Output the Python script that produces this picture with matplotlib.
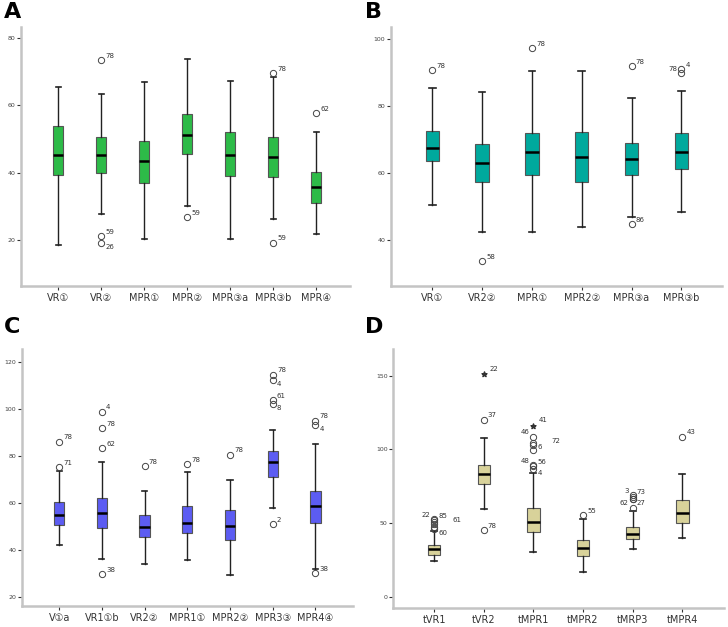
import matplotlib
matplotlib.use("Agg")
import matplotlib.pyplot as plt

plt.rcParams['font.family'] = ['DejaVu Sans', 'Noto Sans CJK SC']

# ---- panel A ----
a_labels = ['VR①', 'VR②', 'MPR①', 'MPR②', 'MPR③a', 'MPR③b', 'MPR④']
a_whislo = [18.4, 27.5, 20.3, 30.0, 20.3, 26.1, 21.8]
a_q1 = [39.4, 39.9, 37.0, 45.4, 39.0, 38.7, 31.0]
a_med = [45.3, 45.3, 43.4, 51.3, 45.3, 44.7, 35.7]
a_q3 = [54.0, 50.6, 49.5, 57.5, 52.1, 50.6, 40.2]
a_whishi = [65.4, 63.5, 66.9, 73.7, 67.4, 68.4, 52.0]
a_out = [[], [(73.5, '78', 'r'), (21.1, '59', 'r'), (19.1, '26', 'rd')], [],
         [(26.8, '59', 'r')], [], [(69.6, '78', 'r'), (19.1, '59', 'r')],
         [(57.8, '62', 'r')]]

# ---- panel B ----
b_labels = ['VR①', 'VR2②', 'MPR①', 'MPR2②', 'MPR③a', 'MPR③b']
b_whislo = [50.4, 42.3, 42.2, 43.7, 46.9, 48.3]
b_q1 = [63.6, 57.3, 59.5, 57.3, 59.5, 61.0]
b_med = [67.5, 63.0, 66.3, 64.6, 64.2, 66.1]
b_q3 = [72.5, 68.5, 71.9, 72.3, 68.8, 71.9]
b_whishi = [85.5, 84.2, 90.5, 90.5, 82.4, 84.6]
b_out = [[(90.7, '78', 'r')], [(33.6, '58', 'r')], [(97.4, '78', 'r')], [],
         [(91.8, '78', 'r'), (44.8, '86', 'r')],
         [(91.1, '4', 'r'), (89.9, '78', 'l')]]

# ---- panel C ----
c_labels = ['V①a', 'VR1①b', 'VR2②', 'MPR1①', 'MPR2②', 'MPR3③', 'MPR4④']
c_whislo = [41.9, 36.1, 33.8, 35.8, 29.1, 57.6, 31.7]
c_q1 = [50.3, 49.2, 45.2, 47.3, 44.2, 71.1, 51.3]
c_med = [54.9, 55.7, 49.6, 51.3, 50.2, 77.5, 58.7]
c_q3 = [60.1, 62.0, 54.6, 58.4, 56.7, 82.0, 64.9]
c_whishi = [73.5, 77.5, 64.8, 73.1, 69.6, 90.8, 84.9]
c_out = [[(86.0, '78', 'r'), (75.0, '71', 'r')],
         [(98.8, '4', 'r'), (91.8, '78', 'r'), (83.3, '62', 'r'), (29.7, '38', 'r')],
         [(75.5, '78', 'r')], [(76.3, '78', 'r')], [(80.5, '78', 'r')],
         [(114.6, '78', 'r'), (112.2, '4', 'rd'), (103.6, '61', 'r'), (102.2, '8', 'rd'),
          (50.9, '2', 'r')],
         [(95.0, '78', 'r'), (93.0, '4', 'rd'), (30.0, '38', 'r')]]

# ---- panel D ----
d_labels = ['tVR1', 'tVR2', 'tMPR1', 'tMPR2', 'tMRP3', 'tMPR4']
d_whislo = [24.4, 59.7, 30.1, 16.7, 32.1, 40.0]
d_q1 = [28.1, 76.2, 44.1, 27.6, 38.9, 49.8]
d_med = [32.1, 83.0, 50.7, 32.8, 42.5, 56.6]
d_q3 = [34.8, 89.4, 60.4, 38.2, 47.1, 65.6]
d_whishi = [44.6, 107.9, 83.7, 52.5, 57.9, 83.0]
d_out = [[(52.5, '22', 'l'), (52.0, '85', 'r'), (50.5, ''), (49.0, '61', 'rr'),
          (47.5, ''), (46.0, '60', 'rd')],
         [(120.1, '37', 'r'), (45.0, '78', 'r')],
         [(108.6, '46', 'l'), (104.1, '6', 'rd'), (103.0, '72', 'rr'), (99.6, ''),
          (89.4, '48', 'l'), (88.4, '56', 'r'), (86.5, '4', 'rd')],
         [(55.2, '55', 'r')],
         [(68.8, '3', 'l'), (67.8, '73', 'r'), (66.5, '62', 'ld'), (66.0, '27', 'rd'),
          (60.0, '')],
         [(108.6, '43', 'r')]]
d_extreme = [[], [(150.9, '22')], [(116.1, '41')], [], [], []]

panels = [
    ('A', a_labels, a_whislo, a_q1, a_med, a_q3, a_whishi, a_out, None,
     '#2dbb48', [0.029, 0.544, 0.452, 0.413], (0.14, 7.79), (6.2, 83.4), [20, 40, 60, 80], 0.24,
     (0.006, 0.997)),
    ('B', b_labels, b_whislo, b_q1, b_med, b_q3, b_whishi, b_out, None,
     '#00a99d', [0.537, 0.544, 0.455, 0.413], (0.17, 6.82), (26.2, 103.6), [40, 60, 80, 100], 0.27,
     (0.502, 0.997)),
    ('C', c_labels, c_whislo, c_q1, c_med, c_q3, c_whishi, c_out, None,
     '#5c5cf2', [0.030, 0.0335, 0.455, 0.41], (0.127, 7.88), (16.0, 125.5), [20, 40, 60, 80, 100, 120], 0.24,
     (0.006, 0.495)),
    ('D', d_labels, d_whislo, d_q1, d_med, d_q3, d_whishi, d_out, d_extreme,
     '#d8d29a', [0.540, 0.031, 0.4545, 0.412], (0.175, 6.84), (-7.5, 167.9), [0, 50, 100, 150], 0.25,
     (0.502, 0.495)),
]

fig = plt.figure(figsize=(7.28, 6.27), dpi=100)

for (name, labels, wlo, q1, med, q3, whi, outs, extremes, color, rect,
     xlim, ylim, yticks, width, letter_pos) in panels:
    ax = fig.add_axes(rect)
    stats = []
    for i in range(len(labels)):
        stats.append({'label': labels[i], 'whislo': wlo[i], 'q1': q1[i], 'med': med[i],
                      'q3': q3[i], 'whishi': whi[i], 'fliers': [o[0] for o in outs[i]]})
    ax.bxp(stats, positions=range(1, len(labels) + 1), widths=width, patch_artist=True,
           boxprops=dict(facecolor=color, edgecolor='#555555', linewidth=0.8),
           medianprops=dict(color='black', linewidth=1.8),
           whiskerprops=dict(color='#222222', linewidth=1.0),
           capprops=dict(color='#222222', linewidth=1.2),
           capwidths=width * 0.5,
           flierprops=dict(marker='o', markersize=4.5, markerfacecolor='none',
                           markeredgecolor='#444444', markeredgewidth=0.7))
    # outlier case numbers
    for i, lst in enumerate(outs):
        for o in lst:
            if len(o) < 3 or o[1] == '':
                continue
            val, txt, side = o
            dx = {'r': 3, 'rd': 3, 'rr': 13, 'l': -3, 'ld': -3}[side]
            dy = -3 if side in ('rd', 'ld') else 3
            ha = 'right' if side in ('l', 'ld') else 'left'
            ax.annotate(txt, (i + 1, val), xytext=(dx, dy), textcoords='offset points',
                        fontsize=5, color='#333333', ha=ha, va='center')
    if extremes:
        for i, lst in enumerate(extremes):
            for val, txt in lst:
                ax.scatter([i + 1], [val], marker='*', s=14, color='#333333', zorder=4)
                ax.annotate(txt, (i + 1, val), xytext=(4, 4), textcoords='offset points',
                            fontsize=5, color='#333333', ha='left', va='center')

    ax.set_xlim(*xlim)
    ax.set_ylim(*ylim)
    ax.set_yticks(yticks)
    ax.set_yticklabels([str(t) for t in yticks], fontsize=4.5, color='#444444')
    ax.tick_params(axis='y', length=3, width=0.8, color='#333333', pad=1)
    ax.tick_params(axis='x', length=3, width=0.8, color='#333333', labelsize=7,
                   labelcolor='#333333', pad=2)
    for s in ['top', 'right']:
        ax.spines[s].set_visible(False)
    for s in ['left', 'bottom']:
        ax.spines[s].set_color('#c4c4c4')
        ax.spines[s].set_linewidth(1.8)
    fig.text(letter_pos[0], letter_pos[1], name, fontsize=16, fontweight='bold',
             va='top', ha='left')

fig.savefig('out.png', dpi=100)
